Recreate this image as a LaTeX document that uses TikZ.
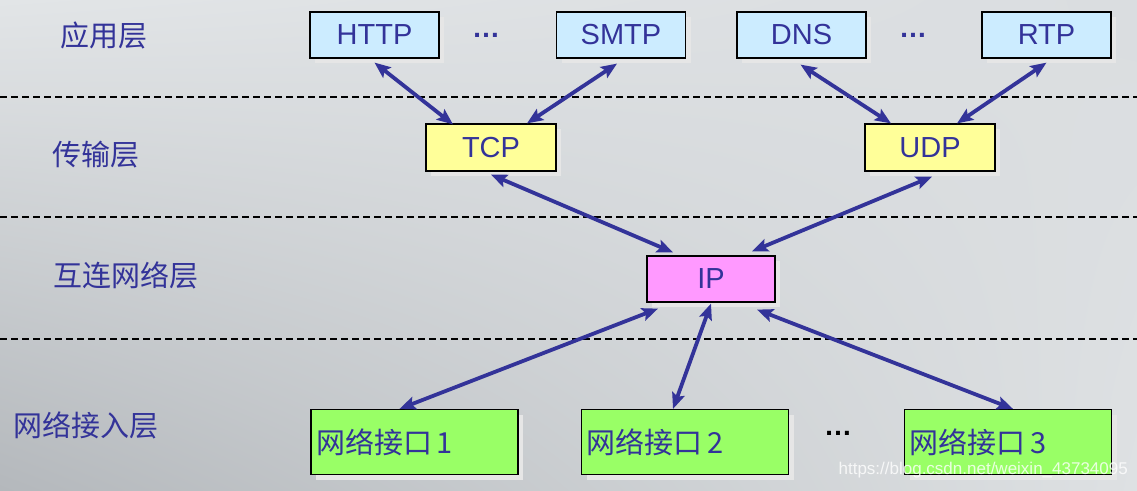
\documentclass[tikz,border=0pt]{standalone}
\usepackage{fontspec}
\setmainfont{Liberation Sans}
\newfontfamily\cjk{Noto Sans CJK SC}
\usetikzlibrary{arrows.meta,shadows,shadings}
\definecolor{txt}{RGB}{51,51,153}
\definecolor{appc}{RGB}{204,236,255}
\definecolor{trc}{RGB}{255,255,153}
\definecolor{ipc}{RGB}{255,153,255}
\definecolor{netc}{RGB}{153,255,102}
\definecolor{arrc}{RGB}{51,51,153}
\definecolor{shd}{RGB}{230,230,230}
\definecolor{bgul}{RGB}{226,229,231}
\definecolor{bgur}{RGB}{218,221,224}
\definecolor{bgll}{RGB}{180,184,188}
\definecolor{bglr}{RGB}{222,225,227}
\begin{document}
\begin{tikzpicture}[x=1pt,y=-1pt,
  box/.style={draw=black, line width=1.2pt, inner sep=0pt, text=txt,
    font=\fontsize{29}{32}\selectfont,
    drop shadow={shadow xshift=5pt, shadow yshift=-5pt, fill=shd, opacity=1}},
  appbox/.style={box, fill=appc, minimum width=129pt, minimum height=46pt},
  trbox/.style={box, fill=trc, minimum width=130pt, minimum height=47pt},
  ipbox/.style={box, fill=ipc, minimum width=128pt, minimum height=46pt},
  netbox/.style={box, fill=netc, minimum width=207pt, minimum height=65pt,
    text width=197pt, align=left, font=\cjk\fontsize{29}{32}\selectfont},
  layer/.style={text=txt, inner sep=0pt, font=\cjk\fontsize{29}{32}\selectfont},
  dots/.style={text=txt, inner sep=0pt, font=\bfseries\fontsize{28}{30}\selectfont},
  sep/.style={draw=black, line width=1.1pt, dash pattern=on 7pt off 4pt},
  conn/.style={draw=arrc, line width=3.8pt,
    {Stealth[length=16pt,width=13pt,inset=3pt]}-{Stealth[length=16pt,width=13pt,inset=3pt]}}
]
\useasboundingbox (0,0) rectangle (1137,490);
\shade[upper left=bgul, upper right=bgur, lower left=bgll, lower right=bglr]
  (0,0) rectangle (1137,490);

% separators
\draw[sep] (0,97) -- (1137,97);
\draw[sep] (0,217) -- (1137,217);
\draw[sep] (0,339) -- (1137,339);

% layer labels
\node[layer] (l1) at (103.5,35) {应用层};
\node[layer] (l2) at (96,155) {传输层};
\node[layer] (l3) at (126,275) {互连网络层};
\node[layer] (l4) at (86,425) {网络接入层};

% application layer
\node[appbox] (http) at (374.5,35) {HTTP};
\node[appbox] (smtp) at (621,35) {SMTP};
\node[appbox] (dns) at (801.5,35) {DNS};
\node[appbox] (rtp) at (1046.5,35) {RTP};
\node[dots] (d1) at (486,35) {…};
\node[dots] (d2) at (913,35) {…};

% transport layer
\node[trbox] (tcp) at (491,147.5) {TCP};
\node[trbox] (udp) at (930,147.5) {UDP};

% internet layer
\node[ipbox] (ip) at (711,279) {IP};

% network access layer
\node[netbox] (if1) at (414.5,442) {网络接口\kern5pt 1};
\node[netbox] (if2) at (685,442) {网络接口\kern5pt 2};
\node[netbox] (if3) at (1008,442) {网络接口\kern5pt 3};
\node[dots, text=black] (d3) at (838,433) {…};

% connectors
\draw[conn] ([shift={(0,4)}]http.south) -- ([shift={(-38,1)}]tcp.north);
\draw[conn] ([shift={(-4,5)}]smtp.south) -- ([shift={(36,0)}]tcp.north);
\draw[conn] ([shift={(-1,6)}]dns.south) -- ([shift={(-39,0)}]udp.north);
\draw[conn] ([shift={(0,4)}]rtp.south) -- ([shift={(27,0)}]udp.north);
\draw[conn] ([shift={(0,3)}]tcp.south) -- ([shift={(-38,-3)}]ip.north);
\draw[conn] ([shift={(2,5)}]udp.south) -- ([shift={(41,-4)}]ip.north);
\draw[conn] ([shift={(-53,6)}]ip.south) -- ([shift={(-15,0)}]if1.north);
\draw[conn] ([shift={(0,1)}]ip.south) -- ([shift={(-12,0)}]if2.north);
\draw[conn] ([shift={(46,7)}]ip.south) -- ([shift={(5,0)}]if3.north);

% watermark
\node[anchor=east, inner sep=0pt, text=white, opacity=0.8,
      font=\fontsize{17}{20}\selectfont] (wm) at (1128,470)
  {https://blog.csdn.net/weixin\_43734095};
\end{tikzpicture}
\end{document}
